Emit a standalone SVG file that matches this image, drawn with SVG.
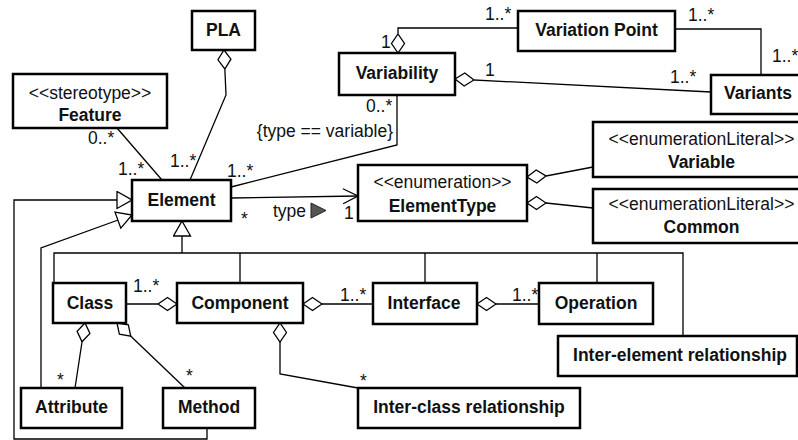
<svg xmlns="http://www.w3.org/2000/svg" width="798" height="440" viewBox="0 0 798 440">
  <style>
    .box { fill: #ffffff; stroke: #000000; stroke-width: 2.5; }
    .ln { fill: none; stroke: #000000; stroke-width: 1.3; }
    text { font-family: "Liberation Sans", Arial, sans-serif; font-size: 17.5px; fill: #111111; }
    .nm { font-weight: bold; text-anchor: middle; }
    .st { text-anchor: middle; }
  </style>
  <defs>
    <!-- hollow diamond for aggregation, placed at the whole end -->
    <marker id="agg" viewBox="0 0 20 16" refX="0.5" refY="8" markerWidth="20" markerHeight="16" markerUnits="userSpaceOnUse" orient="auto">
      <path d="M0.5,8 L10,1.5 L19.5,8 L10,14.5 Z" fill="#ffffff" stroke="#000000" stroke-width="1.3"/>
    </marker>
    <!-- hollow triangle for generalization -->
    <marker id="gen" viewBox="0 0 17 19" refX="16" refY="9.5" markerWidth="17" markerHeight="19" markerUnits="userSpaceOnUse" orient="auto">
      <path d="M1,1 L16,9.5 L1,18 Z" fill="#ffffff" stroke="#000000" stroke-width="1.3"/>
    </marker>
    <!-- open arrowhead for navigable association -->
    <marker id="open" viewBox="0 0 17 17" refX="16" refY="8.5" markerWidth="17" markerHeight="17" markerUnits="userSpaceOnUse" orient="auto">
      <path d="M1,1 L16,8.5 L1,16" fill="none" stroke="#000000" stroke-width="1.3"/>
    </marker>
  </defs>

  <g id="connectors">
    <!-- PLA aggregates Element -->
    <path class="ln" d="M224,50 L226,95 L190,180" marker-start="url(#agg)"/>
    <!-- Feature to Element -->
    <path class="ln" d="M117,128 L162,180"/>
    <!-- Variability to Element -->
    <path class="ln" d="M397,95 L397,145 L231,187"/>
    <!-- Element type association -->
    <path class="ln" d="M231,198 L358,196" marker-end="url(#open)"/>
    <polygon points="311,203 326,210.5 311,218" fill="#555555" stroke="#222222" stroke-width="1"/>
    <!-- Variability aggregates Variation Point -->
    <path class="ln" d="M398,53 L398,28 L518,28" marker-start="url(#agg)"/>
    <!-- Variation Point to Variants -->
    <path class="ln" d="M675,29 L761,29 L761,75"/>
    <!-- Variability aggregates Variants -->
    <path class="ln" d="M455,79 L711,92" marker-start="url(#agg)"/>
    <!-- ElementType literals -->
    <path class="ln" d="M527,177 L546,176 L593,167" marker-start="url(#agg)"/>
    <path class="ln" d="M527,203 L546,203 L593,208" marker-start="url(#agg)"/>
    <!-- Generalization tree below Element -->
    <path class="ln" d="M182,253 L182,221" marker-end="url(#gen)"/>
    <path class="ln" d="M54,283 L54,253 L683,253 L683,336"/>
    <path class="ln" d="M240,253 L240,283"/>
    <path class="ln" d="M425,253 L425,283"/>
    <path class="ln" d="M597,253 L597,283"/>
    <!-- Method and Attribute generalizations -->
    <path class="ln" d="M207,428 L207,439 L14,439 L14,200 L132,200" marker-end="url(#gen)"/>
    <path class="ln" d="M41,388 L41,248 L132,215" marker-end="url(#gen)"/>
    <!-- Component aggregates Class -->
    <path class="ln" d="M177,304 L126,304" marker-start="url(#agg)"/>
    <!-- Component aggregates Interface -->
    <path class="ln" d="M303,304 L373,304" marker-start="url(#agg)"/>
    <!-- Interface aggregates Operation -->
    <path class="ln" d="M477,304 L539,304" marker-start="url(#agg)"/>
    <!-- Class aggregates Attribute and Method -->
    <path class="ln" d="M85,323 L82,342 L75,388" marker-start="url(#agg)"/>
    <path class="ln" d="M117,323 L185,388" marker-start="url(#agg)"/>
    <!-- Component aggregates Inter-class relationship -->
    <path class="ln" d="M280,323 L280,374 L358,388" marker-start="url(#agg)"/>

    <!-- multiplicities and labels -->
    <text x="170" y="167">1..*</text>
    <text x="88" y="144">0..*</text>
    <text x="118" y="175">1..*</text>
    <text x="366" y="112">0..*</text>
    <text x="393" y="137" text-anchor="end">{type == variable}</text>
    <text x="227" y="177">1..*</text>
    <text x="273" y="217">type</text>
    <text x="344" y="219">1</text>
    <text x="241" y="225">*</text>
    <text x="381" y="48">1</text>
    <text x="485" y="20">1..*</text>
    <text x="688" y="21">1..*</text>
    <text x="772" y="62">1..*</text>
    <text x="485" y="76">1</text>
    <text x="670" y="83">1..*</text>
    <text x="133" y="292">1..*</text>
    <text x="340" y="301">1..*</text>
    <text x="512" y="301">1..*</text>
    <text x="57" y="386">*</text>
    <text x="186" y="382">*</text>
    <text x="360" y="387">*</text>
  </g>

  <g id="pla"><rect class="box" x="192" y="11" width="63" height="39"/><text class="nm" x="223.5" y="36">PLA</text></g>
  <g id="feature"><rect class="box" x="13" y="74" width="154" height="54"/><text class="st" x="90" y="99">&lt;&lt;stereotype&gt;&gt;</text><text class="nm" x="90" y="121">Feature</text></g>
  <g id="variability"><rect class="box" x="339" y="53" width="116" height="42"/><text class="nm" x="397" y="79">Variability</text></g>
  <g id="variation-point"><rect class="box" x="518" y="11" width="157" height="40"/><text class="nm" x="596.5" y="36">Variation Point</text></g>
  <g id="variants"><rect class="box" x="711" y="75" width="100" height="39"/><text class="nm" x="758" y="99">Variants</text></g>
  <g id="element"><rect class="box" x="132" y="180" width="99" height="41"/><text class="nm" x="181.5" y="206">Element</text></g>
  <g id="element-type"><rect class="box" x="358" y="165" width="169" height="56"/><text class="st" x="442.5" y="188">&lt;&lt;enumeration&gt;&gt;</text><text class="nm" x="442.5" y="212">ElementType</text></g>
  <g id="variable"><rect class="box" x="593" y="122" width="220" height="55"/><text class="st" x="701.5" y="145">&lt;&lt;enumerationLiteral&gt;&gt;</text><text class="nm" x="701.5" y="168">Variable</text></g>
  <g id="common"><rect class="box" x="593" y="189" width="220" height="54"/><text class="st" x="701.5" y="210">&lt;&lt;enumerationLiteral&gt;&gt;</text><text class="nm" x="701.5" y="233">Common</text></g>
  <g id="class"><rect class="box" x="53" y="283" width="73" height="40"/><text class="nm" x="90" y="309">Class</text></g>
  <g id="component"><rect class="box" x="177" y="283" width="126" height="40"/><text class="nm" x="240" y="309">Component</text></g>
  <g id="interface"><rect class="box" x="373" y="283" width="104" height="41"/><text class="nm" x="424" y="309">Interface</text></g>
  <g id="operation"><rect class="box" x="539" y="283" width="114" height="41"/><text class="nm" x="596" y="309">Operation</text></g>
  <g id="inter-element"><rect class="box" x="558" y="336" width="239" height="40"/><text class="nm" x="680" y="361">Inter-element relationship</text></g>
  <g id="attribute"><rect class="box" x="21" y="388" width="101" height="40"/><text class="nm" x="71.5" y="413">Attribute</text></g>
  <g id="method"><rect class="box" x="163" y="388" width="92" height="40"/><text class="nm" x="209" y="413">Method</text></g>
  <g id="inter-class"><rect class="box" x="358" y="388" width="222" height="40"/><text class="nm" x="469" y="413">Inter-class relationship</text></g>
</svg>
